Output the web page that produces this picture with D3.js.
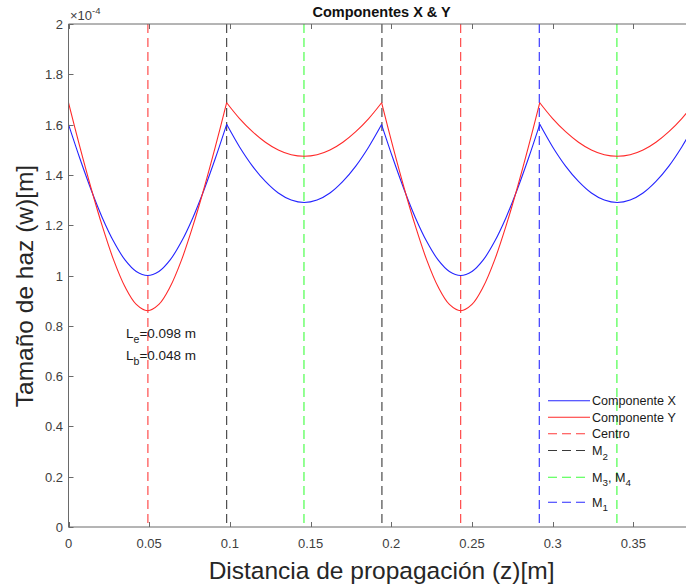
<!DOCTYPE html>
<html><head><meta charset="utf-8">
<script src="https://cdn.jsdelivr.net/npm/d3@7"></script>
<style>body{margin:0;background:#fff}svg{display:block;font-family:"Liberation Sans",Arial,Helvetica,sans-serif}</style>
</head><body><svg id="c" width="686" height="586"></svg>
<script>
// propagation distance z [m]
const zValues = [0,0.007,0.014,0.021,0.028,0.035,0.042,0.049,0.056,0.063,0.070,0.077,0.084,0.091,0.098,
  0.106,0.114,0.122,0.130,0.138,0.146,0.154,0.162,0.170,0.178,0.186,0.194,
  0.201,0.208,0.215,0.222,0.229,0.236,0.243,0.250,0.257,0.264,0.271,0.278,0.285,0.292,
  0.300,0.308,0.316,0.324,0.332,0.340,0.348,0.356,0.364,0.372,0.380,0.388];
// beam size (x 1e-4 m)
const compX = [1.601,1.466,1.341,1.229,1.135,1.062,1.016,1.000,1.016,1.062,1.135,1.229,1.341,1.466,1.601,
  1.511,1.435,1.374,1.328,1.300,1.290,1.300,1.328,1.374,1.435,1.511,1.600,
  1.466,1.341,1.229,1.135,1.062,1.016,1.000,1.016,1.062,1.135,1.229,1.341,1.466,1.601,
  1.511,1.435,1.374,1.328,1.300,1.290,1.300,1.328,1.374,1.435,1.511,1.600];
const compY = [1.687,1.512,1.347,1.195,1.061,0.955,0.885,0.860,0.885,0.955,1.061,1.195,1.347,1.512,1.687,
  1.624,1.572,1.530,1.499,1.480,1.474,1.480,1.499,1.530,1.572,1.624,1.687,
  1.512,1.347,1.195,1.061,0.955,0.885,0.860,0.885,0.955,1.061,1.195,1.347,1.512,1.687,
  1.624,1.572,1.530,1.499,1.480,1.474,1.480,1.499,1.530,1.572,1.624,1.687];
// vertical marker positions and their kinds
const markerZ = [0.0492,0.098,0.1459,0.1942,0.243,0.2917,0.3398];
const markerType = ["Centro","M2","M34","M2","Centro","M1","M34"];
const xTicks = [0,0.05,0.1,0.15,0.2,0.25,0.3,0.35];
const xTickLabels = ["0","0.05","0.1","0.15","0.2","0.25","0.3","0.35"];
const yTicks = [0,0.2,0.4,0.6,0.8,1,1.2,1.4,1.6,1.8,2];
const yTickLabels = ["0","0.2","0.4","0.6","0.8","1","1.2","1.4","1.6","1.8","2"];
const legendKeys = ["X","Y","Centro","M2","M34","M1"];

const colors = {X:"#2424ff",Y:"#ff2a2a",Centro:"#ff3a3a",M2:"#3a3a3a",M34:"#3cff3c",M1:"#2a2aff"};

const svg = d3.select("#c");
const L = 68.5, T = 24, B = 527, R = 694.7;
const x = d3.scaleLinear().domain([0,0.388]).range([L,R]);
const y = d3.scaleLinear().domain([0,2]).range([B,T]);

svg.append("defs").append("clipPath").attr("id","clip")
  .append("rect").attr("x",L).attr("y",T).attr("width",R-L).attr("height",B-T);

// vertical dashed markers
svg.append("g").attr("clip-path","url(#clip)").selectAll("line").data(markerZ).join("line")
  .attr("x1",d=>x(d)).attr("x2",d=>x(d)).attr("y1",T).attr("y2",B)
  .attr("stroke",(d,i)=>colors[markerType[i]]).attr("stroke-width",1.1)
  .attr("stroke-dasharray","9,5");

// curves, split at cusps
function segments(vals){
  const segs=[]; let cur=[];
  vals.forEach((v,i)=>{
    cur.push([zValues[i],v]);
    if(i>0 && i<vals.length-1 && v>vals[i-1] && v>vals[i+1]){ segs.push(cur); cur=[[zValues[i],v]]; }
  });
  segs.push(cur); return segs;
}
const line = d3.line().x(d=>x(d[0])).y(d=>y(d[1])).curve(d3.curveCatmullRom.alpha(0.5));
[["X",compX],["Y",compY]].forEach(([k,vals])=>{
  svg.append("g").attr("clip-path","url(#clip)").selectAll("path").data(segments(vals)).join("path")
    .attr("d",line).attr("fill","none").attr("stroke",colors[k]).attr("stroke-width",1.1);
});

// axes
const axisColor = "#6a6a6a", textColor = "#404040";
const ax = svg.append("g");
ax.append("line").attr("x1",L).attr("x2",R).attr("y1",B).attr("y2",B).attr("stroke",axisColor);
ax.append("line").attr("x1",L).attr("x2",R).attr("y1",T).attr("y2",T).attr("stroke",axisColor);
ax.append("line").attr("x1",L).attr("x2",L).attr("y1",T).attr("y2",B).attr("stroke",axisColor);
xTicks.forEach((t,i)=>{
  const px = Math.round(x(t))+0.5;
  ax.append("line").attr("x1",px).attr("x2",px).attr("y1",B).attr("y2",B-5).attr("stroke",axisColor);
  ax.append("line").attr("x1",px).attr("x2",px).attr("y1",T).attr("y2",T+5).attr("stroke",axisColor);
  ax.append("text").attr("x",x(t)).attr("y",548).attr("text-anchor","middle")
    .attr("font-size",13).attr("fill",textColor).text(xTickLabels[i]);
});
yTicks.forEach((t,i)=>{
  const py = Math.round(y(t))+0.5;
  ax.append("line").attr("x1",L).attr("x2",L+5).attr("y1",py).attr("y2",py).attr("stroke",axisColor);
  ax.append("text").attr("x",63).attr("y",y(t)+5).attr("text-anchor","end")
    .attr("font-size",13).attr("fill",textColor).text(yTickLabels[i]);
});
// exponent
const ex = svg.append("text").attr("x",70).attr("y",20).attr("font-size",13).attr("fill",textColor);
ex.append("tspan").text("\u00d710");
ex.append("tspan").attr("font-size",9.5).attr("dy",-6).text("-4");

// title and labels
svg.append("text").attr("x",(L+R)/2).attr("y",17).attr("text-anchor","middle")
  .attr("font-size",14.5).attr("font-weight","bold").attr("fill","#111").text("Componentes X & Y");
svg.append("text").attr("x",(L+R)/2).attr("y",579).attr("text-anchor","middle")
  .attr("font-size",24.5).attr("fill","#262626").text("Distancia de propagación (z)[m]");
svg.append("text").attr("transform","translate(33,286) rotate(-90)").attr("text-anchor","middle")
  .attr("font-size",24.5).attr("fill","#262626").text("Tamaño de haz (w)[m]");

// text with subscripts
function subText(g, xx, yy, parts, size){
  const t = g.append("text").attr("x",xx).attr("y",yy).attr("font-size",size).attr("fill","#1a1a1a");
  let shift = 0;
  parts.forEach(p=>{
    const target = p.sub ? 4.5 : 0;
    const s = t.append("tspan").attr("dy",target-shift).text(p.t);
    if(p.sub) s.attr("font-size",size*0.78);
    shift = target;
  });
  return t;
}
subText(svg,126,338,[{t:"L"},{t:"e",sub:true},{t:"=0.098 m"}],13.5);
subText(svg,126,360,[{t:"L"},{t:"b",sub:true},{t:"=0.048 m"}],13.5);

// legend
const legRows = [400.7,417.2,433.8,450.5,477.3,502.3];
const legText = {
  X:[{t:"Componente X"}], Y:[{t:"Componente Y"}], Centro:[{t:"Centro"}],
  M2:[{t:"M"},{t:"2",sub:true}], M34:[{t:"M"},{t:"3",sub:true},{t:", M"},{t:"4",sub:true}], M1:[{t:"M"},{t:"1",sub:true}]
};
const lg = svg.append("g");
legendKeys.forEach((k,i)=>{
  const yy = legRows[i];
  lg.append("line").attr("x1",548).attr("x2",590).attr("y1",yy).attr("y2",yy)
    .attr("stroke",colors[k]).attr("stroke-width",1.1)
    .attr("stroke-dasharray",(k==="X"||k==="Y")?null:"9,5");
  subText(lg,592,yy+4.5,legText[k],12.6);
});
</script></body></html>
